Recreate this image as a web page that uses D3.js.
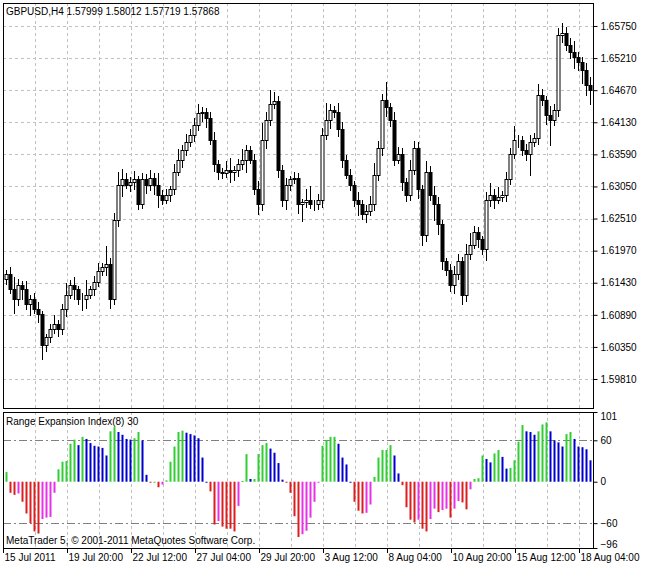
<!DOCTYPE html>
<html>
<head>
<meta charset="utf-8">
<script src="https://cdn.jsdelivr.net/npm/d3@7"></script>
<style>
  body { margin: 0; background: #fff; }
  text { font-family: "Liberation Sans", Arial, sans-serif; font-size: 10px; fill: #000; }
</style>
</head>
<body>
<svg id="chart" width="647" height="569"></svg>
<script>
const closes = [
  1.6157,1.6132,1.6115,1.6140,1.6132,1.6107,1.6115,1.6098,1.6090,1.6039,1.6051,1.6065,1.6073,1.6065,1.6098,1.6123,1.6140,1.6132,1.6115,1.6115,
  1.6123,1.6132,1.6145,1.6162,1.6169,1.6174,1.6115,1.6249,1.6308,1.6317,1.6308,1.6313,1.6317,1.6275,1.6317,1.6308,1.6320,1.6308,
  1.6291,1.6283,1.6291,1.6300,1.6330,1.6350,1.6367,1.6380,1.6392,1.6409,1.6429,1.6431,1.6421,1.6384,1.6342,1.6330,1.6328,1.6333,1.6330,1.6333,
  1.6342,1.6350,1.6367,1.6350,1.6300,1.6275,1.6384,1.6417,1.6443,1.6448,1.6333,1.6283,1.6308,1.6317,1.6320,1.6275,
  1.6278,1.6283,1.6275,1.6275,1.6283,1.6392,1.6417,1.6434,1.6431,1.6401,1.6350,1.6325,1.6308,1.6283,1.6275,1.6258,1.6263,1.6275,1.6325,1.6370,
  1.6451,1.6438,1.6417,1.6350,1.6359,1.6312,1.6291,1.6333,1.6370,1.6300,1.6224,1.6330,1.6291,1.6275,1.6241,1.6179,1.6165,
  1.6140,1.6157,1.6179,1.6123,1.6191,1.6207,1.6229,1.6216,1.6199,1.6283,1.6291,1.6283,1.6288,1.6290,1.6317,1.6359,1.6384,1.6384,1.6367,1.6359,
  1.6380,1.6387,1.6459,1.6451,1.6426,1.6417,1.6434,1.6560,1.6564,1.6543,1.6532,1.6522,1.6515,1.6501,1.6476,1.6468
];
// wick lengths beyond the body, in pips
const upWick = [
  8,12,20,10,6,14,8,10,12,6,5,9,15,8,10,20,7,12,6,10,
  25,6,10,14,8,30,10,12,22,18,10,8,14,6,10,9,12,8,
  20,8,10,6,12,18,8,14,10,12,15,8,6,10,12,8,6,14,20,6,
  10,18,8,6,10,15,28,14,24,16,10,8,12,6,10,8,
  6,18,22,8,10,12,28,10,6,14,12,8,10,6,12,8,10,14,20,12,
  10,30,8,14,12,10,8,16,12,10,8,18,10,14,12,8,6,
  10,14,12,8,18,20,10,8,6,12,20,10,16,8,12,10,22,8,6,10,
  12,8,18,10,6,14,10,12,16,10,12,18,10,8,12,14
];
const dnWick = [
  10,8,24,12,18,10,20,8,14,26,12,10,8,14,10,12,8,18,10,20,
  16,8,12,10,8,14,16,10,12,20,8,12,14,10,8,16,10,18,
  22,10,8,12,10,8,14,10,8,12,10,16,18,10,12,14,10,8,20,16,
  12,10,22,8,10,18,12,16,10,8,14,12,18,10,8,16,
  30,10,8,12,10,14,8,16,10,12,14,8,10,12,20,10,14,8,12,10,
  14,16,12,10,8,14,12,10,8,16,20,12,10,28,18,14,10,
  12,16,10,18,12,10,8,14,10,20,12,16,8,10,12,10,8,14,10,12,
  36,8,12,10,18,44,10,12,14,10,12,20,16,24,18,26
];
const reiValues = [
  14,-16,-19,-17,-29,-46,-60,-72,-75,-54,-52,-51,-16,18,29,30,55,61,53,65,
  62,56,52,51,49,38,73,79,72,68,62,61,63,72,60,10,-1,0,-8,-4,
  2,29,51,72,74,71,69,67,63,35,0,-14,-62,-57,-65,-68,-68,-72,-35,1,
  40,4,4,40,53,56,48,42,27,3,-1,-16,-50,-80,-76,-71,-52,-29,-1,
  52,60,65,65,55,35,25,0,-29,-42,-46,-45,-33,7,35,46,46,53,38,12,
  -5,-37,-55,-59,-55,-68,-72,-54,-39,-44,-41,-39,-52,-39,-28,-30,-40,-11,4,5,
  38,33,28,41,46,36,19,20,31,58,82,73,72,68,73,83,86,73,60,57,
  51,69,72,62,51,50,47,31
];
const priceTicks = [1.65750,1.65210,1.64670,1.64130,1.63590,1.63050,1.62510,1.61970,1.61430,1.60890,1.60350,1.59810];
const reiTicks = [101,60,0,-60,-96];
const dateLabels = ['15 Jul 2011','19 Jul 20:00','22 Jul 12:00','27 Jul 04:00','29 Jul 20:00','3 Aug 12:00','8 Aug 04:00','10 Aug 20:00','15 Aug 12:00','18 Aug 04:00'];
const dateLabelBars = [0,16,32,48,64,80,96,112,128,144];

const svg = d3.select('#chart');
const left = 3, right = 593;
const main = { top: 3, bottom: 408 };
const sub = { top: 412, bottom: 548 };
const pip = 0.0001;

const bars = closes.map((c, i) => {
  const o = i === 0 ? 1.6150 : closes[i - 1];
  return { i, o, c, h: Math.max(o, c) + upWick[i] * pip, l: Math.min(o, c) - dnWick[i] * pip };
});

const x = d3.scaleLinear().domain([0, 1]).range([left + 3, left + 7]);
const y = d3.scaleLinear().domain([1.59322, 1.66137]).range([main.bottom, main.top]);
const yr = d3.scaleLinear().domain([-96, 101]).range([sub.bottom, sub.top]);

const gridColor = '#c0c0c0';
const gridX = d3.range(1, 19).map((k) => left + 32 * k);
[main, sub].forEach((p) => {
  svg.append('g').selectAll('line').data(gridX).join('line')
    .attr('x1', (d) => d + 0.5).attr('x2', (d) => d + 0.5)
    .attr('y1', p.top).attr('y2', p.bottom)
    .attr('stroke', gridColor).attr('stroke-dasharray', '3,3');
});
svg.append('g').selectAll('line').data(priceTicks).join('line')
  .attr('x1', left).attr('x2', right)
  .attr('y1', (d) => Math.round(y(d)) + 0.5).attr('y2', (d) => Math.round(y(d)) + 0.5)
  .attr('stroke', gridColor).attr('stroke-dasharray', '3,3');
svg.append('g').selectAll('line').data([60, -60]).join('line')
  .attr('x1', left).attr('x2', right)
  .attr('y1', (d) => Math.round(yr(d)) + 0.5).attr('y2', (d) => Math.round(yr(d)) + 0.5)
  .attr('stroke', '#808080').attr('stroke-dasharray', '8,3,2,3');

// candles
const cg = svg.append('g');
bars.forEach((b) => {
  const cx = Math.round(x(b.i)) + 0.5;
  cg.append('line').attr('x1', cx).attr('x2', cx)
    .attr('y1', Math.round(y(b.h))).attr('y2', Math.round(y(b.l)))
    .attr('stroke', '#000');
  const top = Math.round(y(Math.max(b.o, b.c)));
  const bot = Math.round(y(Math.min(b.o, b.c)));
  cg.append('rect').attr('x', cx - 1.5).attr('y', top + 0.5)
    .attr('width', 3).attr('height', Math.max(0, bot - top))
    .attr('fill', b.c >= b.o ? '#fff' : '#000').attr('stroke', '#000');
});

// REI histogram
const colorOf = (v, i) => {
  const prev = i === 0 ? 0 : reiValues[i - 1];
  if (v >= 0) return v >= prev ? '#32cd32' : '#0000cd';
  return v <= prev ? '#dc1e1e' : '#e632e6';
};
svg.append('g').selectAll('rect').data(reiValues).join('rect')
  .attr('x', (d, i) => Math.round(x(i)) - 0.5)
  .attr('width', 2)
  .attr('y', (d) => Math.min(yr(d), yr(0)))
  .attr('height', (d) => Math.max(1, Math.abs(yr(d) - yr(0))))
  .attr('fill', colorOf);

[main, sub].forEach((p) => {
  svg.append('rect').attr('x', left + 0.5).attr('y', p.top + 0.5)
    .attr('width', right - left).attr('height', p.bottom - p.top)
    .attr('fill', 'none').attr('stroke', '#000');
});

// right axes
const yAxis = d3.axisRight(y).tickValues(priceTicks).tickFormat(d3.format('.5f')).tickSize(4);
svg.append('g').attr('transform', `translate(${right + 0.5},0)`).call(yAxis)
  .call((g) => g.select('.domain').remove());
const rAxis = d3.axisRight(yr).tickValues(reiTicks).tickSize(4);
svg.append('g').attr('transform', `translate(${right + 0.5},0)`).call(rAxis)
  .call((g) => g.select('.domain').remove())
  .call((g) => g.selectAll('.tick text')
    .attr('dy', (d) => d === 101 ? '0.75em' : d === -96 ? '-0.1em' : '0.32em'));
svg.selectAll('.tick text').style('font-family', '"Liberation Sans", Arial, sans-serif').style('font-size', '10px').attr('fill', '#000');

// date axis
const dg = svg.append('g');
dateLabelBars.forEach((bi, k) => {
  const px = left + 4 * bi + 0.5;
  dg.append('line').attr('x1', px).attr('x2', px).attr('y1', sub.bottom).attr('y2', sub.bottom + 5).attr('stroke', '#000');
  dg.append('text').attr('x', px + 1).attr('y', 561).text(dateLabels[k]);
});

svg.append('text').attr('x', 6).attr('y', 15).text('GBPUSD,H4  1.57999 1.58012 1.57719 1.57868');
svg.append('text').attr('x', 6).attr('y', 425).text('Range Expansion Index(8) 30');
svg.append('text').attr('x', 6).attr('y', 544).text('MetaTrader 5, © 2001-2011 MetaQuotes Software Corp.');
</script>
</body>
</html>
